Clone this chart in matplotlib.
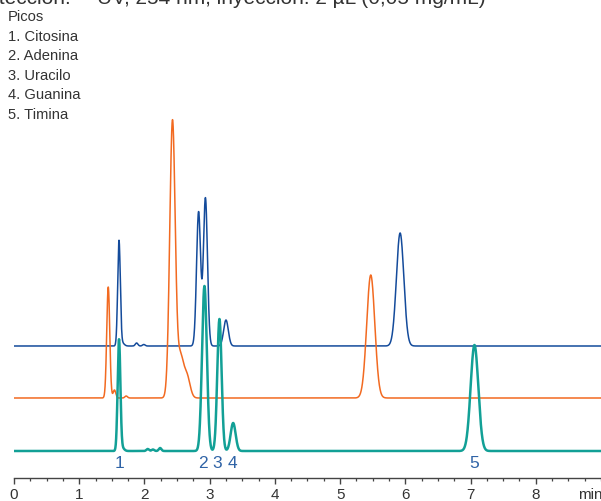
import numpy as np
import matplotlib
matplotlib.use('Agg')
import matplotlib.pyplot as plt
from matplotlib.ticker import MultipleLocator

plt.rcParams['font.family'] = ['Liberation Sans', 'DejaVu Sans']

# peak tables: retention time (min), height, width (sigma, min)
blue_rt = [1.61, 1.66, 1.88, 1.99, 2.83, 2.935, 3.25, 5.92]
blue_h = [105, 3, 3, 1.5, 134, 148, 26, 113]
blue_w = [0.020, 0.03, 0.02, 0.02, 0.031, 0.031, 0.036, 0.057]

orange_rt = [1.445, 1.54, 1.72, 2.43, 2.55, 2.65, 5.47]
orange_h = [111, 8, 2, 277, 40, 22, 123]
orange_w = [0.023, 0.02, 0.02, 0.042, 0.046, 0.048, 0.062]

teal_rt = [1.61, 1.66, 2.05, 2.13, 2.24, 2.92, 3.15, 3.36, 7.06]
teal_h = [111, 3, 2, 1.5, 3, 165, 132, 28, 106]
teal_w = [0.021, 0.03, 0.02, 0.02, 0.02, 0.037, 0.033, 0.038, 0.059]

# baseline offsets of each trace
blue_base = 132
orange_base = 80
teal_base = 27

peak_labels = ['1', '2', '3', '4', '5']
peak_label_rt = [1.61, 2.90, 3.11, 3.35, 7.06]

legend_lines = ['Picos', '1. Citosina', '2. Adenina', '3. Uracilo', '4. Guanina', '5. Timina']

t = np.arange(0, 9.0, 0.002)


def trace(rt, h, w, base):
    y = np.full_like(t, base, dtype=float)
    for r, a, s in zip(rt, h, w):
        y += a * np.exp(-0.5 * ((t - r) / s) ** 2)
    return y


fig = plt.figure(figsize=(6.01, 5.01), dpi=100)
ax = fig.add_axes([14 / 601, 1 - 478 / 501, 1 - 14 / 601, 478 / 501])

ax.plot(t, trace(blue_rt, blue_h, blue_w, blue_base), color='#144b9b', lw=1.1)
ax.plot(t, trace(orange_rt, orange_h, orange_w, orange_base), color='#f26a21', lw=1.1)
ax.plot(t, trace(teal_rt, teal_h, teal_w, teal_base), color='#12a096', lw=1.8)

for lab, r in zip(peak_labels, peak_label_rt):
    ax.text(r, 15, lab, color='#2f63a6', fontsize=12.5, ha='center', va='center')

ax.set_xlim(0, 9.0)
ax.set_ylim(0, 478)
for s in ['left', 'right', 'top']:
    ax.spines[s].set_visible(False)
ax.spines['bottom'].set_color('#444444')
ax.spines['bottom'].set_linewidth(1.0)
ax.set_yticks([])
ax.xaxis.set_major_locator(MultipleLocator(1))
ax.xaxis.set_minor_locator(MultipleLocator(0.25))
ax.set_xticks(range(0, 9))
ax.tick_params(axis='x', which='major', length=4, width=1.0, color='#444444',
               labelsize=11, pad=3, labelcolor='#333333')
ax.tick_params(axis='x', which='minor', length=2, width=0.9, color='#444444')
ax.text(8.83, -17, 'min', fontsize=11, color='#333333', ha='center', va='center',
        clip_on=False)

# header (cut off at the top in the reference)
fig.text(71 / 601, 1 - 3.5 / 501, 'Detección:', fontsize=15, color='#333333',
         ha='right', va='baseline')
fig.text(97 / 601, 1 - 3.5 / 501, 'UV, 254 nm, inyección: 2 µL (0,05 mg/mL)',
         fontsize=15, color='#333333', ha='left', va='baseline')

for i, line in enumerate(legend_lines):
    fig.text(8 / 601, 1 - (21 + 19.6 * i) / 501, line, fontsize=10.6,
             color='#333333', ha='left', va='baseline')

fig.savefig('out.png', dpi=100)
